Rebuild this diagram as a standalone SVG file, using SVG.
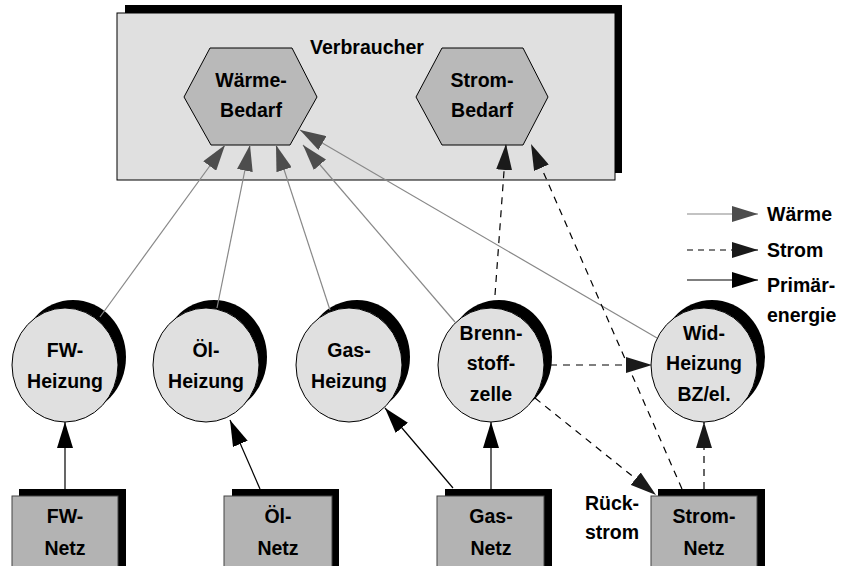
<svg xmlns="http://www.w3.org/2000/svg" width="846" height="566" viewBox="0 0 846 566">
<style>
text{font-family:"Liberation Sans",Arial,sans-serif;font-weight:bold;font-size:19.5px;fill:#000;text-anchor:middle}
.lg{text-anchor:start}
.sh{fill:#000}
.circ{fill:#e0e0e0;stroke:#000;stroke-width:1}
.hex{fill:#b9b9b9;stroke:#000;stroke-width:1}
.box{fill:#b3b3b3;stroke:#444;stroke-width:1}
.w{stroke:#888;stroke-width:1.2;fill:none;marker-end:url(#aw)}
.s{stroke:#000;stroke-width:1.2;stroke-dasharray:7,6;fill:none;marker-end:url(#as)}
.p{stroke:#000;stroke-width:1.2;fill:none;marker-end:url(#ap)}
</style>
<defs>
<marker id="aw" viewBox="0 0 26 16" refX="26" refY="8" markerWidth="26" markerHeight="16" markerUnits="userSpaceOnUse" orient="auto"><path d="M0,0 L26,8 L0,16 z" fill="#4d4d4d"/></marker>
<marker id="as" viewBox="0 0 26 16" refX="26" refY="8" markerWidth="26" markerHeight="16" markerUnits="userSpaceOnUse" orient="auto"><path d="M0,0 L26,8 L0,16 z" fill="#1a1a1a"/></marker>
<marker id="ap" viewBox="0 0 26 16" refX="26" refY="8" markerWidth="26" markerHeight="16" markerUnits="userSpaceOnUse" orient="auto"><path d="M0,0 L26,8 L0,16 z" fill="#000"/></marker>
</defs>

<g id="verbraucher">
<rect class="sh" x="125" y="5" width="497" height="168"/>
<rect x="117" y="13" width="498" height="167" fill="#e0e0e0" stroke="#000" stroke-width="1"/>
<text x="367" y="54">Verbraucher</text>
</g>

<g id="waerme-bedarf">
<polygon class="hex" points="184,97 210,48 292,48 317,97 290,145 211,145"/>
<text x="251" y="87">Wärme-</text>
<text x="251" y="117">Bedarf</text>
</g>

<g id="strom-bedarf">
<polygon class="hex" points="416,97 442,48 523,48 548,97 523,145 442,145"/>
<text x="482" y="87">Strom-</text>
<text x="482" y="117">Bedarf</text>
</g>

<g id="fw-heizung">
<ellipse class="sh" cx="73" cy="357" rx="53" ry="57"/>
<ellipse class="circ" cx="65" cy="365" rx="53" ry="57"/>
<text x="65" y="357">FW-</text>
<text x="65" y="388">Heizung</text>
</g>

<g id="oel-heizung">
<ellipse class="sh" cx="214" cy="357" rx="53" ry="57"/>
<ellipse class="circ" cx="206" cy="365" rx="53" ry="57"/>
<text x="206" y="357">Öl-</text>
<text x="206" y="388">Heizung</text>
</g>

<g id="gas-heizung">
<ellipse class="sh" cx="357" cy="357" rx="53" ry="57"/>
<ellipse class="circ" cx="349" cy="365" rx="53" ry="57"/>
<text x="349" y="357">Gas-</text>
<text x="349" y="388">Heizung</text>
</g>

<g id="brennstoffzelle">
<ellipse class="sh" cx="499" cy="357" rx="53" ry="57"/>
<ellipse class="circ" cx="491" cy="365" rx="53" ry="57"/>
<text x="491" y="340">Brenn-</text>
<text x="491" y="370">stoff-</text>
<text x="491" y="401">zelle</text>
</g>

<g id="wid-heizung">
<ellipse class="sh" cx="712" cy="357" rx="53" ry="57"/>
<ellipse class="circ" cx="704" cy="365" rx="53" ry="57"/>
<text x="704" y="340">Wid-</text>
<text x="704" y="370">Heizung</text>
<text x="704" y="401">BZ/el.</text>
</g>

<g id="fw-netz">
<rect class="sh" x="19" y="489" width="107" height="80"/>
<rect class="box" x="12" y="496" width="106" height="80"/>
<text x="65" y="523">FW-</text>
<text x="65" y="555">Netz</text>
</g>

<g id="oel-netz">
<rect class="sh" x="232" y="489" width="107" height="80"/>
<rect class="box" x="224" y="496" width="108" height="80"/>
<text x="278" y="523">Öl-</text>
<text x="278" y="555">Netz</text>
</g>

<g id="gas-netz">
<rect class="sh" x="445" y="489" width="107" height="80"/>
<rect class="box" x="437" y="496" width="107" height="80"/>
<text x="491" y="523">Gas-</text>
<text x="491" y="555">Netz</text>
</g>

<g id="strom-netz">
<rect class="sh" x="658" y="489" width="107" height="80"/>
<rect class="box" x="651" y="496" width="106" height="80"/>
<text x="704" y="523">Strom-</text>
<text x="704" y="555">Netz</text>
</g>

<g id="rueckstrom-label">
<text x="612" y="510">Rück-</text>
<text x="612" y="539">strom</text>
</g>

<g id="connectors">
<line class="w" x1="100" y1="317" x2="225" y2="145"/>
<line class="w" x1="217" y1="308" x2="250" y2="145"/>
<line class="w" x1="330" y1="310" x2="276" y2="145"/>
<line class="w" x1="455" y1="322" x2="303" y2="145"/>
<line class="w" x1="657" y1="338" x2="300" y2="130"/>
<line class="s" x1="495" y1="295" x2="506" y2="144"/>
<line class="s" x1="682" y1="489" x2="531" y2="144"/>
<line class="s" x1="550" y1="365" x2="652" y2="365"/>
<line class="s" x1="535" y1="398" x2="656" y2="495"/>
<line class="s" x1="704" y1="489" x2="704" y2="422"/>
<line class="p" x1="65" y1="489" x2="65" y2="422"/>
<line class="p" x1="260" y1="489" x2="230" y2="420"/>
<line class="p" x1="453" y1="488" x2="385" y2="408"/>
<line class="p" x1="491" y1="489" x2="491" y2="422"/>
</g>

<g id="legend">
<line class="w" x1="687" y1="214" x2="758" y2="214"/>
<line class="s" x1="687" y1="250" x2="758" y2="250" style="stroke-dasharray:6,5"/>
<line class="p" x1="687" y1="280" x2="758" y2="280"/>
<text class="lg" x="767" y="221">Wärme</text>
<text class="lg" x="767" y="257">Strom</text>
<text class="lg" x="767" y="292">Primär-</text>
<text class="lg" x="767" y="322">energie</text>
</g>
</svg>
